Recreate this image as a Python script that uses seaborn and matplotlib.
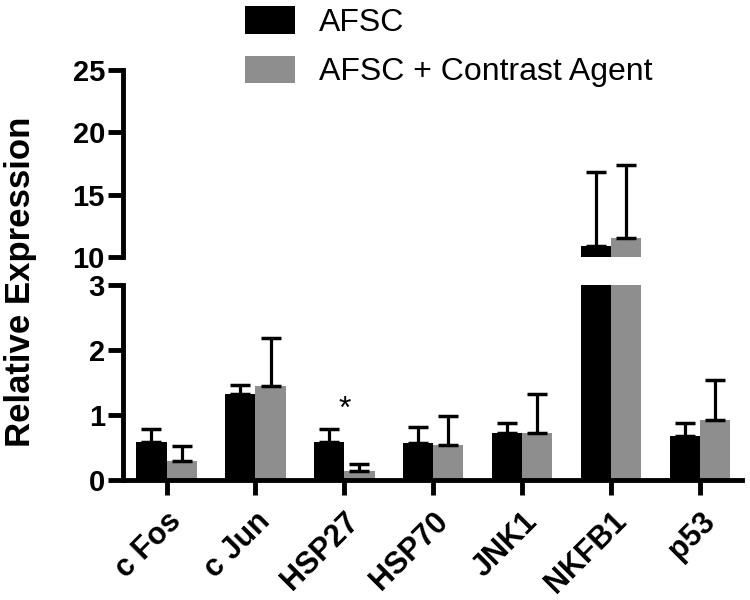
import matplotlib
matplotlib.use('Agg')
import matplotlib.pyplot as plt
import seaborn as sns
import pandas as pd
import numpy as np

genes = ["c Fos", "c Jun", "HSP27", "HSP70", "JNK1", "NKFB1", "p53"]
groups = ["AFSC", "AFSC + Contrast Agent"]
afsc_mean = [0.59, 1.32, 0.58, 0.57, 0.73, 10.9, 0.68]
afsc_err = [0.19, 0.14, 0.20, 0.25, 0.15, 5.95, 0.19]
ca_mean = [0.30, 1.45, 0.14, 0.54, 0.73, 11.5, 0.93]
ca_err = [0.22, 0.74, 0.11, 0.44, 0.60, 5.9, 0.61]
low_ticks = [0, 1, 2, 3]
high_ticks = [10, 15, 20, 25]
star_gene = "HSP27"
star_y = 1.08

sns.set_style('white')
plt.rcParams['font.family'] = ['Liberation Sans', 'DejaVu Sans']

df = pd.DataFrame({
    'gene': genes * 2,
    'group': [groups[0]] * len(genes) + [groups[1]] * len(genes),
    'value': afsc_mean + ca_mean,
    'err': afsc_err + ca_err,
})
palette = {groups[0]: '#000000', groups[1]: '#8e8e8e'}

fig = plt.figure(figsize=(7.5, 6), dpi=100)
ax_hi = fig.add_axes([0.164, 0.5717, 0.825, 0.3117])
ax_lo = fig.add_axes([0.164, 0.2, 0.825, 0.325])

for ax in (ax_hi, ax_lo):
    sns.barplot(data=df, x='gene', y='value', hue='group', order=genes,
                hue_order=groups, palette=palette, width=0.68, errorbar=None,
                saturation=1, ax=ax, linewidth=0)
    for cont, grp in zip(ax.containers, groups):
        sub = df[df.group == grp].set_index('gene').loc[genes]
        xs = [p.get_x() + p.get_width() / 2 for p in cont.patches]
        ax.errorbar(xs, sub['value'].values,
                    yerr=[np.zeros(len(xs)), sub['err'].values],
                    fmt='none', ecolor='black', elinewidth=2.3,
                    capsize=7, capthick=2.5, zorder=3)
    ax.set_xlim(-0.49, 6.47)
    ax.set_xlabel('')
    ax.set_ylabel('')
    for s in ['top', 'right']:
        ax.spines[s].set_visible(False)
    for s in ['left', 'bottom']:
        ax.spines[s].set_linewidth(3.5)
        ax.spines[s].set_color('black')
    ax.tick_params(axis='both', length=11, width=3.5, labelsize=21, pad=2,
                   color='black', labelcolor='black', direction='out',
                   left=True, bottom=True)

handles, labels = ax_lo.get_legend_handles_labels()
for ax in (ax_hi, ax_lo):
    if ax.get_legend() is not None:
        ax.get_legend().remove()

ax_hi.set_ylim(10, 25)
ax_hi.set_yticks(high_ticks)
ax_hi.set_yticklabels([str(t) for t in high_ticks], fontweight='bold', fontsize=21)
ax_hi.spines['bottom'].set_visible(False)
ax_hi.tick_params(axis='x', bottom=False, labelbottom=False)

ax_lo.set_ylim(0, 3)
ax_lo.set_yticks(low_ticks)
ax_lo.set_yticklabels([str(t) for t in low_ticks], fontweight='bold', fontsize=21)
ax_lo.set_xticks(range(len(genes)))
ax_lo.set_xticklabels(genes, rotation=45, ha='right', rotation_mode='anchor',
                      fontweight='bold', fontsize=22)
ax_lo.tick_params(axis='x', pad=8)

ax_lo.text(genes.index(star_gene), star_y, '*', ha='center', va='center',
           fontsize=23, color='black')

fig.text(0.027, 0.53, 'Relative Expression', rotation=90, fontsize=25,
         fontweight='bold', va='center', ha='center', color='black')

fig.legend(handles, labels, loc='upper left', bbox_to_anchor=(0.318, 1.0),
           frameon=False, fontsize=23, handlelength=1.57, handleheight=0.94,
           handletextpad=0.75, labelspacing=0.55, borderpad=0.2,
           borderaxespad=0, labelcolor='black')

fig.savefig('out.png', dpi=100)
